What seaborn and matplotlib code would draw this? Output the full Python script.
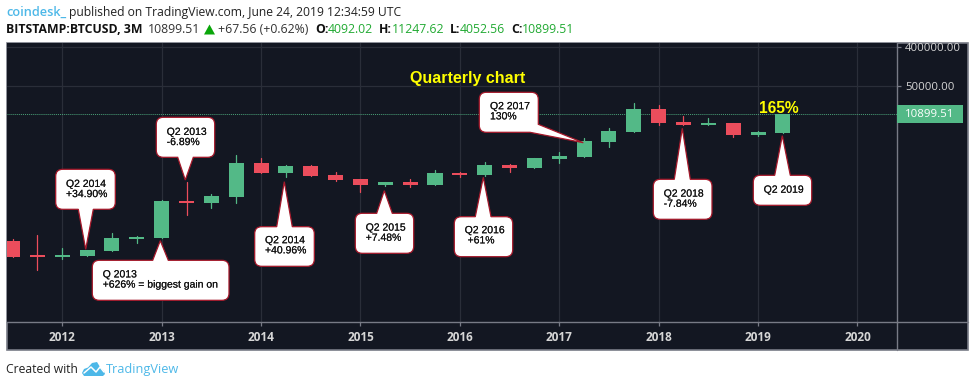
"""Quarterly BTCUSD candles on a log scale, TradingView dark look."""

import matplotlib.patheffects as pe
import matplotlib.pyplot as plt
import numpy as np
import pandas as pd
import seaborn as sns
from matplotlib.lines import Line2D
from matplotlib.patches import PathPatch, Polygon, Rectangle
from matplotlib.path import Path
from matplotlib.ticker import FixedLocator, NullLocator
from matplotlib.transforms import IdentityTransform

W, H = 975, 387

# quarter start, decimal year
quarters = [
    2011.5, 2011.75,
    2012.0, 2012.25, 2012.5, 2012.75,
    2013.0, 2013.25, 2013.5, 2013.75,
    2014.0, 2014.25, 2014.5, 2014.75,
    2015.0, 2015.25, 2015.5, 2015.75,
    2016.0, 2016.25, 2016.5, 2016.75,
    2017.0, 2017.25, 2017.5, 2017.75,
    2018.0, 2018.25, 2018.5, 2018.75,
    2019.0, 2019.25,
]
opens = [
    11.7, 5.62,
    5.05, 5.42, 7.1, 13.3,
    14.0, 103, 92, 127,
    794, 463, 675, 416,
    336, 243, 286, 243,
    463, 416, 713, 607,
    984, 1096, 2455, 4207,
    14490, 7211, 6124, 6823,
    3581, 4092.02,
]
highs = [
    13.3, 16.5,
    8.2, 7.36, 18.4, 15.6,
    108, 290, 150, 1222,
    1038, 724, 724, 481,
    336, 286, 336, 545,
    489, 838, 752, 1038,
    1413, 3000, 5129, 20320,
    17990, 9954, 8933, 6823,
    4436, 11247.62,
]
lows = [
    5.13, 2.51,
    4.47, 5.33, 7.1, 10.7,
    14.0, 48.4, 70.5, 92,
    456, 373, 401, 296,
    167, 230, 215, 243,
    373, 388, 489, 607,
    794, 1079, 1875, 4207,
    6124, 6124, 6124, 3214,
    3388, 4052.56,
]
closes = [
    5.13, 5.05,
    5.62, 7.36, 13.8, 14.8,
    103, 92, 135, 794,
    463, 675, 401, 318,
    243, 286, 243, 463,
    416, 713, 607, 1038,
    1156, 2594, 4436, 14490,
    6823, 6124, 6823, 3581,
    4207, 10899.51,
]
years = [2012, 2013, 2014, 2015, 2016, 2017, 2018, 2019, 2020]
price_ticks = [50000, 400000]
last_price = 10899.51

UP = "#53b987"
DOWN = "#eb4d5c"
BG = "#131722"
GRID = "#2a2e39"
FRAME = "#787b86"
BLUE = "#4db8e8"
EDGE = "#a5182a"

sns.set_theme(style="dark", rc={
    "figure.facecolor": "white",
    "axes.facecolor": BG,
    "font.family": ["Open Sans", "DejaVu Sans"],
})


def px(x, y):
    """Top-left pixel coordinates to display coordinates."""
    return x, H - y


def label(x, y, s, **kw):
    kw.setdefault("va", "center")
    kw.setdefault("ha", "left")
    return fig.text(x, H - y, s, transform=IdentityTransform(), **kw)


def callout(text, box, tail, text_x, text_y, side):
    """White rounded box with a tail, one outline for the whole shape."""
    x0, y0, x1, y1 = box
    r = 7
    codes = [Path.MOVETO]
    verts = [(x0 + r, y0)]

    def to(*pts):
        for p in pts:
            verts.append(p)
            codes.append(Path.LINETO)

    def corner(c, p):
        verts.extend([c, p])
        codes.extend([Path.CURVE3, Path.CURVE3])

    if side == "top":
        to(*tail)
    to((x1 - r, y0))
    corner((x1, y0), (x1, y0 + r))
    if side == "corner":
        to(*tail)
    else:
        to((x1, y1 - r))
        corner((x1, y1), (x1 - r, y1))
    if side == "bottom":
        to(*tail)
    to((x0 + r, y1))
    corner((x0, y1), (x0, y1 - r))
    to((x0, y0 + r))
    corner((x0, y0), (x0 + r, y0))
    verts = [px(*v) for v in verts]
    fig.add_artist(PathPatch(Path(verts, codes), facecolor="white", edgecolor=EDGE, lw=0.9,
                             transform=IdentityTransform(), zorder=10))
    t = label(text_x, text_y, text, color="#111111", fontsize=7.5, family="Liberation Sans",
              linespacing=1.02, zorder=11)
    # the reference text is a bit heavier than regular
    t.set_path_effects([pe.withStroke(linewidth=0.1, foreground="#333333")])


df = pd.DataFrame({"quarter": quarters, "open": opens, "high": highs, "low": lows, "close": closes})
df["direction"] = np.where(df["close"] >= df["open"], "up", "down")

fig = plt.figure(figsize=(W / 100, H / 100), dpi=100)
ax = fig.add_axes([6.7 / W, 1 - 322.3 / H, (896.7 - 6.7) / W, (322.3 - 43.3) / H])

# panel behind both axes strips
fig.add_artist(Rectangle(px(6.7, 350), 968.3 - 6.7, 350 - 43.3, facecolor=BG, edgecolor=FRAME,
                         lw=1.2, transform=IdentityTransform(), zorder=-1))

ax.set_yscale("log")
ax.set_xlim(2011.441, 2020.395)
ax.set_ylim(0.1507, 497000)

# wicks, one short line per candle
wicks = df.melt(id_vars=["quarter", "direction"], value_vars=["low", "high"], value_name="price")
sns.lineplot(data=wicks, x="quarter", y="price", hue="direction", units="quarter", estimator=None,
             palette={"up": UP, "down": DOWN}, linewidth=0.9, legend=False, ax=ax, zorder=3)

body_low = df[["open", "close"]].min(axis=1)
body_high = df[["open", "close"]].max(axis=1)
ax.bar(df["quarter"], body_high - body_low, bottom=body_low, width=0.151,
       color=df["direction"].map({"up": UP, "down": DOWN}), linewidth=0, zorder=4)

ax.axhline(last_price, color=UP, lw=0.7, ls=(0, (1, 1)), alpha=0.85, zorder=2)

ax.set_xlabel("")
ax.set_ylabel("")
ax.xaxis.set_major_locator(FixedLocator(years))
ax.xaxis.set_minor_locator(NullLocator())
ax.set_xticklabels([str(y) for y in years], fontsize=8.5, fontweight="bold", color="#d6d6d6")
ax.yaxis.tick_right()
ax.yaxis.set_major_locator(FixedLocator(price_ticks))
ax.yaxis.set_minor_locator(NullLocator())
ax.set_yticklabels([f"{p:.2f}" for p in price_ticks], fontsize=8.2, color="#d6d6d6")
ax.tick_params(axis="both", which="major", length=3, width=0.9, color=FRAME, pad=3, bottom=True, right=True)
ax.grid(True, which="major", color=GRID, lw=0.9, zorder=0)
ax.set_axisbelow(True)
for name, spine in ax.spines.items():
    spine.set_visible(name in ("bottom", "right"))
    spine.set_color(FRAME)
    spine.set_linewidth(1.0)

# axis lines run on through the strips
fig.add_artist(Line2D([896.7, 896.7], [H - 322.3, H - 350], color=FRAME, lw=1.0, transform=IdentityTransform()))
fig.add_artist(Line2D([896.7, 968.3], [H - 322.3, H - 322.3], color=FRAME, lw=1.0, transform=IdentityTransform()))

# last price tag
fig.canvas.draw()
tag_y = H - ax.transData.transform((2015, last_price))[1]
fig.add_artist(Rectangle(px(897, tag_y + 9), 65.5, 18, facecolor=UP, edgecolor="none",
                         transform=IdentityTransform(), zorder=5))
label(905, tag_y, f"{last_price:.2f}", color="white", fontsize=8.2, zorder=6)

label(410, 78.3, "Quarterly chart", color="#ffff00", fontsize=11.5, fontweight="bold",
      family="Liberation Sans", zorder=11)
label(758.7, 108.7, "165%", color="#ffff00", fontsize=11.2, fontweight="bold",
      family="Liberation Sans", zorder=11)

callout("Q2 2014\n+34.90%", (55.7, 169.3, 115.3, 209.3), [(93.3, 209.3), (85.7, 249.3), (78.3, 209.3)], 66, 189, "bottom")
callout("Q 2013\n+626% = biggest gain on", (92.3, 260.3, 229, 300.3), [(152.7, 260.3), (160.3, 240.7), (168.3, 260.3)], 102.7, 279.5, "top")
callout("Q2 2013\n-6.89%", (156.3, 117.3, 214.7, 157.3), [(193.3, 157.3), (185.3, 180), (177.7, 157.3)], 166.7, 137, "bottom")
callout("Q2 2014\n+40.96%", (254.7, 226.7, 314.3, 266.3), [(276.7, 226.7), (284.3, 181.7), (292.3, 226.7)], 265, 245.3, "top")
callout("Q2 2015\n+7.48%", (355.3, 213.3, 413.7, 253.3), [(376.7, 213.3), (384.3, 190.7), (392.3, 213.3)], 365.7, 232.7, "top")
callout("Q2 2016\n +61%", (454.3, 216.7, 512.7, 256.7), [(475.3, 216.7), (483.3, 177.3), (491, 216.7)], 464.7, 235.3, "top")
callout("Q2 2017\n130%", (479.3, 92.3, 538.3, 132.3), [(538.3, 124.3), (583.3, 142.7), (530, 132.3)], 490, 111.3, "corner")
callout("Q2 2018\n-7.84%", (653.3, 179.3, 712, 219.3), [(674.3, 179.3), (682.3, 128.3), (690.3, 179.3)], 663.7, 198.7, "top")
callout("Q2 2019", (753.3, 175.3, 811.7, 205.3), [(774.7, 175.3), (782.3, 135.7), (790.3, 175.3)], 763.7, 189.7, "top")

# header
label(6.3, 12.7, "coindesk_", color=BLUE, fontsize=9.2, fontweight="semibold")
label(69, 12.7, "published on TradingView.com, June 24, 2019 12:34:59 UTC", color="#222222", fontsize=8.75)
label(6.3, 29.5, "BITSTAMP:BTCUSD, 3M", color="#111111", fontsize=8.8, fontweight="bold")
label(148, 29.5, "10899.51", color="#333333", fontsize=8.8)
fig.add_artist(Polygon([px(204, 34.5), px(215, 34.5), px(209.5, 24.5)], facecolor="#0aa60a",
                       edgecolor="none", transform=IdentityTransform()))
label(218, 29.5, "+67.56 (+0.62%)", color="#333333", fontsize=8.8)
for x, s in [(315, "O:"), (378.5, "H:"), (450, "L:"), (511, "C:")]:
    label(x, 29.5, s, color="#111111", fontsize=8.8, fontweight="bold")
for x, s in [(328, "4092.02"), (392, "11247.62"), (460, "4052.56"), (522, "10899.51")]:
    label(x, 29.5, s, color="#22aa33", fontsize=8.8)

# footer with the little cloud logo
label(6.5, 369.5, "Created with", color="#222222", fontsize=8.7)
logo = [(82, 373), (84, 369), (88, 367.5), (92, 363), (97, 362), (100, 367), (104, 371), (105, 374),
        (103, 376), (84, 376)]
fig.add_artist(Polygon([px(*p) for p in logo], facecolor=BLUE, edgecolor="none", transform=IdentityTransform()))
zig = [(84, 373), (91, 367), (96, 372), (100, 367), (104, 372)]
fig.add_artist(Line2D([p[0] for p in zig], [H - p[1] for p in zig], color="white", lw=1.1, transform=IdentityTransform()))
label(106, 369.5, "TradingView", color=BLUE, fontsize=9.2)

fig.savefig("out.png", dpi=100)
